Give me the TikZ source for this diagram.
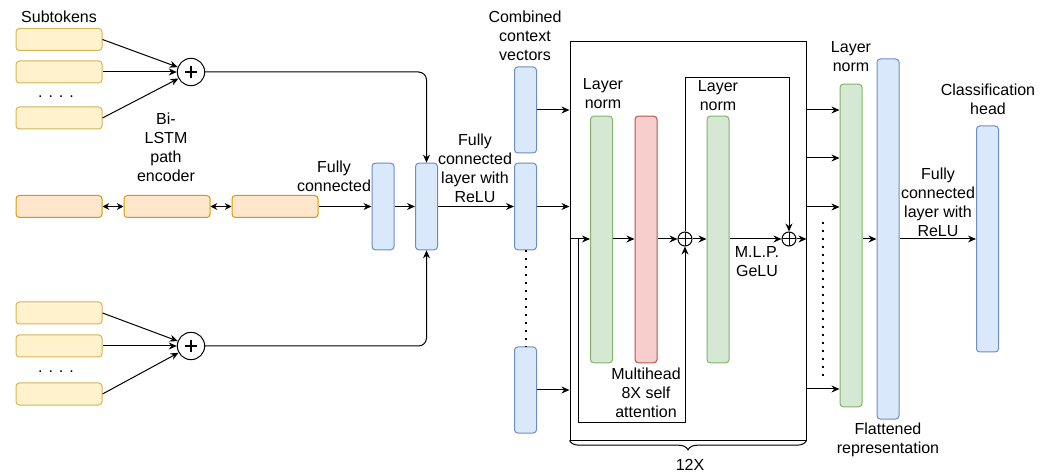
\documentclass[tikz,border=0pt]{standalone}
\usepackage{fontspec}
\setmainfont{Liberation Sans}
\usetikzlibrary{arrows.meta, positioning, decorations.pathreplacing}

\definecolor{tokfill}{HTML}{FFF2CC}
\definecolor{tokdraw}{HTML}{D6B656}
\definecolor{lstmfill}{HTML}{FFE6CC}
\definecolor{lstmdraw}{HTML}{D79B00}
\definecolor{vecfill}{HTML}{DAE8FC}
\definecolor{vecdraw}{HTML}{6C8EBF}
\definecolor{normfill}{HTML}{D5E8D4}
\definecolor{normdraw}{HTML}{82B366}
\definecolor{attnfill}{HTML}{F8CECC}
\definecolor{attndraw}{HTML}{B85450}

\tikzstyle{subtoken} = [rectangle, rounded corners=2.5pt, minimum width=64.5pt, minimum height=16.5pt, inner sep=0pt, draw=tokdraw, fill=tokfill, line width=0.75pt]
\tikzstyle{lstm} = [subtoken, draw=lstmdraw, fill=lstmfill]
\tikzstyle{vecbar} = [rectangle, rounded corners=2.5pt, minimum width=16.5pt, minimum height=65pt, inner sep=0pt, draw=vecdraw, fill=vecfill, line width=0.75pt]
\tikzstyle{normbar} = [vecbar, minimum height=185pt, draw=normdraw, fill=normfill]
\tikzstyle{attnbar} = [normbar, draw=attndraw, fill=attnfill]
\tikzstyle{bigplus} = [circle, draw, minimum size=20.5pt, inner sep=0pt, line width=0.75pt,
  path picture={\draw[line width=1.5pt] ([xshift=-4.2pt]path picture bounding box.center) -- ([xshift=4.2pt]path picture bounding box.center)
    ([yshift=-4.2pt]path picture bounding box.center) -- ([yshift=4.2pt]path picture bounding box.center);}]
\tikzstyle{smallplus} = [circle, draw, minimum size=10.5pt, inner sep=0pt, line width=0.75pt,
  path picture={\draw[line width=0.75pt] (path picture bounding box.west) -- (path picture bounding box.east)
    (path picture bounding box.north) -- (path picture bounding box.south);}]
\tikzstyle{textlbl} = [align=center, inner sep=0pt]
\tikzstyle{arrow} = [line width=0.75pt, -{Stealth[length=6pt, width=5.2pt]}]
\tikzstyle{biarrow} = [line width=0.75pt, {Stealth[length=5pt, width=5pt]}-{Stealth[length=5pt, width=5pt]}]
\tikzstyle{dotline} = [line width=1.5pt, dash pattern=on 1.5pt off 4.5pt]

\begin{document}
\begin{tikzpicture}[x=0.75pt, y=-0.75pt, font=\fontsize{12}{14.3}\selectfont]
\useasboundingbox (0,0) rectangle (1051,474);

% Subtokens and Bi-LSTM
\node (toka) [subtoken] at (59,39.5) {};
\node (tokb) [subtoken] at (59,72) {};
\node (tokc) [subtoken] at (59,118) {};
\node (tokdotsa) at (56,97) {. . . .};
\node (sumtop) [bigplus] at (191,72) {};
\node (tokd) [subtoken] at (59,313) {};
\node (toke) [subtoken] at (59,346) {};
\node (tokf) [subtoken] at (59,394) {};
\node (tokdotsb) at (56,372) {. . . .};
\node (sumbot) [bigplus] at (191,346) {};
\node (lstma) [lstm] at (59,206.5) {};
\node (lstmb) [lstm] at (167,206.5) {};
\node (lstmc) [lstm] at (275,206.5) {};

% Fully connected and context vectors
\node (fcone) [vecbar] at (383,206.5) {};
\node (fctwo) [vecbar] at (426.5,206.5) {};
\node (ctxa) [vecbar, minimum height=64.5pt] at (525.5,110) {};
\node (ctxb) [vecbar] at (525.5,206.5) {};
\node (ctxc) [vecbar, minimum height=64.5pt] at (525.5,390) {};

% Transformer block
\node (block) [draw, line width=0.75pt, minimum width=177pt, minimum height=298.5pt, inner sep=0pt] at (688,241) {};
\node (lnone) [normbar] at (601.5,239.5) {};
\node (mha) [attnbar] at (646,239.5) {};
\node (lntwo) [normbar] at (718,239.5) {};
\node (plusone) [smallplus] at (685,239) {};
\node (plustwo) [smallplus] at (789,239) {};

% Output head
\node (lnthree) [normbar, minimum height=242pt] at (851,245.5) {};
\node (flat) [vecbar, minimum height=270pt] at (888,239) {};
\node (cls) [vecbar, minimum height=169.5pt] at (987.5,239) {};

% Labels
\node (subtoklbl) [textlbl] at (59,17) {Subtokens};
\node (lstmlbl) [textlbl] at (166,147) {Bi-\\LSTM\\path\\encoder};
\node (fconelbl) [textlbl] at (334,176) {Fully\\connected};
\node (fctwolbl) [textlbl] at (475,168) {Fully\\connected\\layer with\\ReLU};
\node (ctxlbl) [textlbl] at (525,36) {Combined\\context\\vectors};
\node (lnonelbl) [textlbl] at (603,94) {Layer\\norm};
\node (mhalbl) [textlbl] at (646,393) {Multihead\\8X self\\attention};
\node (lntwolbl) [textlbl] at (718,96) {Layer\\norm};
\node (mlplbl) [textlbl] at (757,262) {M.L.P.\\GeLU};
\node (lnthreelbl) [textlbl] at (851,57) {Layer\\norm};
\node (flatlbl) [textlbl] at (888,440) {Flattened\\representation};
\node (clsfclbl) [textlbl] at (938,202) {Fully\\connected\\layer with\\ReLU};
\node (clslbl) [textlbl] at (988,99) {Classification\\head};
\node (replbl) [textlbl] at (690,465) {12X};

% Arrows
\draw [arrow] (toka.east) -- (sumtop);
\draw [arrow] (tokb.east) -- (sumtop);
\draw [arrow] (tokc.east) -- (sumtop);
\draw [arrow] (tokd.east) -- (sumbot);
\draw [arrow] (toke.east) -- (sumbot);
\draw [arrow] (tokf.east) -- (sumbot);
\draw [arrow, rounded corners=6pt] (sumtop.east) -| (fctwo.north);
\draw [arrow, rounded corners=6pt] (sumbot.east) -| (fctwo.south);
\draw [biarrow] (lstma) -- (lstmb);
\draw [biarrow] (lstmb) -- (lstmc);
\draw [arrow] (lstmc) -- (fcone);
\draw [arrow] (fcone) -- (fctwo);
\draw [arrow] (fctwo) -- (ctxb);
\draw [arrow] (ctxa.east) -- (block.west |- ctxa.east);
\draw [arrow] (ctxb.east) -- (block.west |- ctxb.east);
\draw [arrow] (ctxc.east) -- (block.west |- ctxc.east);
\draw [dotline] (ctxb.south) -- (ctxc.north);

% inside the block
\coordinate (blockin) at (block.west |- plusone);
\draw [arrow] (blockin) -- (lnone.west |- plusone);
\draw [arrow] (lnone.east |- plusone) -- (mha.west |- plusone);
\draw [arrow] (mha.east |- plusone) -- (plusone);
\draw [arrow] (plusone) -- (lntwo.west |- plusone);
\draw [arrow] (lntwo.east |- plusone) -- (plustwo);
\draw [arrow] (plustwo) -- (block.east |- plusone);
\draw [arrow] ([xshift=6.75pt]blockin) -- ++(0,183) -| (plusone.south);
\draw [arrow] (plusone.north) -- ++(0,-154) -| (plustwo.north);
\draw [decorate, decoration={brace, mirror, amplitude=7pt}, line width=0.75pt] (block.south west) -- (block.south east);

% out of the block
\foreach \yy in {110,158,207,389}
  \draw [arrow] (block.east |- 0,\yy) -- (lnthree.west |- 0,\yy);
\draw [dotline] (823,222) -- (823,378);
\draw [arrow] (lnthree.east |- plustwo) -- (flat.west |- plustwo);
\draw [arrow] (flat.east |- plustwo) -- (cls.west |- plustwo);

\end{tikzpicture}
\end{document}
